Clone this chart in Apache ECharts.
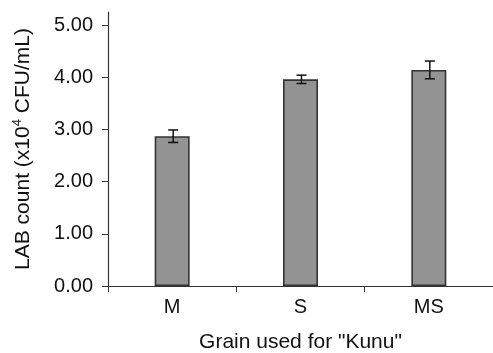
<!DOCTYPE html>
<html>
<head>
<meta charset="utf-8">
<script src="https://cdn.jsdelivr.net/npm/echarts@6/dist/echarts.min.js"></script>
<style>
  html, body { margin: 0; padding: 0; background: #fff; }
  #chart { width: 493px; height: 353px; }
</style>
</head>
<body>
<div id="chart"></div>
<script>
const categories = ['M', 'S', 'MS'];
const labCount = [2.87, 3.96, 4.14];
const errors = [0.12, 0.08, 0.17];
const yTicks = [0, 1, 2, 3, 4, 5];

const errorData = categories.map((c, i) => [i, labCount[i] - errors[i], labCount[i] + errors[i]]);

const chart = echarts.init(document.getElementById('chart'));
const font = 'Liberation Sans, Arial, Helvetica, sans-serif';
chart.setOption({
  animation: false,
  grid: { left: 108, right: 0, top: 12, bottom: 67, containLabel: false, outerBoundsMode: 'none' },
  xAxis: {
    type: 'category',
    data: categories,
    name: 'Grain used for "Kunu"',
    nameLocation: 'middle',
    nameGap: 46,
    nameTextStyle: { fontFamily: font, fontSize: 21, color: '#111' },
    axisLine: { lineStyle: { color: '#333', width: 1.2 } },
    axisTick: { show: true, length: 6, lineStyle: { color: '#333' } },
    axisLabel: { fontFamily: font, fontSize: 20, color: '#111', margin: 11 }
  },
  yAxis: {
    type: 'value',
    min: 0,
    max: 5.25,
    interval: 1,
    name: '{a|LAB count (x10}{s|4}{a| CFU/mL)}',
    nameLocation: 'middle',
    nameGap: 72,
    nameTextStyle: {
      rich: {
        a: { fontFamily: font, fontSize: 21, color: '#111', lineHeight: 25 },
        s: { fontFamily: font, fontSize: 13, color: '#111', lineHeight: 25, verticalAlign: 'top', padding: [0, 0, 8, 0] }
      }
    },
    axisLine: { show: true, lineStyle: { color: '#333', width: 1.2 } },
    axisTick: { show: true, length: 6, customValues: yTicks, lineStyle: { color: '#333' } },
    axisLabel: {
      fontFamily: font, fontSize: 20, color: '#111', margin: 15,
      customValues: yTicks,
      formatter: v => v.toFixed(2)
    },
    splitLine: { show: false }
  },
  series: [
    {
      type: 'bar',
      data: labCount,
      barWidth: 35,
      itemStyle: { color: '#939393', borderColor: '#333', borderWidth: 1.6 }
    },
    {
      type: 'custom',
      data: errorData,
      z: 10,
      renderItem: function (params, api) {
        const x = api.value(0);
        const lo = api.coord([x, api.value(1)]);
        const hi = api.coord([x, api.value(2)]);
        const cx = lo[0] + 1;
        const hw = 5;
        const st = { stroke: '#111', lineWidth: 1.5 };
        return {
          type: 'group',
          children: [
            { type: 'line', shape: { x1: cx, y1: lo[1], x2: cx, y2: hi[1] }, style: st },
            { type: 'line', shape: { x1: cx - hw, y1: lo[1], x2: cx + hw, y2: lo[1] }, style: st },
            { type: 'line', shape: { x1: cx - hw, y1: hi[1], x2: cx + hw, y2: hi[1] }, style: st }
          ]
        };
      }
    }
  ]
});
</script>
</body>
</html>
